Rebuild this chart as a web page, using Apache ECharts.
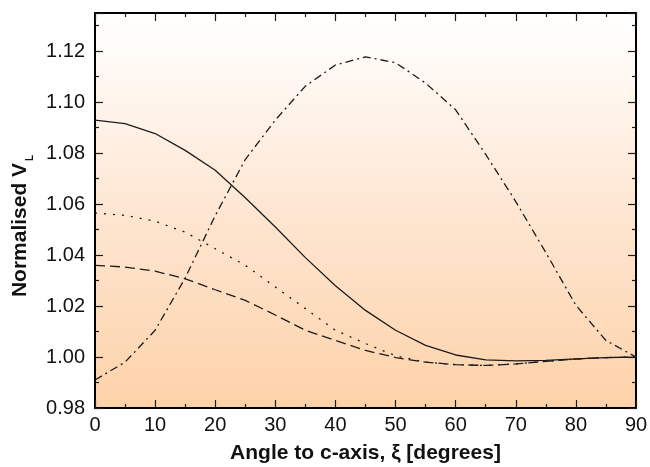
<!DOCTYPE html>
<html>
<head>
<meta charset="utf-8">
<script src="https://cdn.jsdelivr.net/npm/echarts@6/dist/echarts.min.js"></script>
<style>
  html, body { margin: 0; padding: 0; background: #ffffff; }
  #chart { width: 650px; height: 467px; }
</style>
</head>
<body>
<div id="chart"></div>
<script>
// Angle to the c-axis (degrees)
const angles = [0, 5, 10, 15, 20, 25, 30, 35, 40, 45, 50, 55, 60, 65, 70, 75, 80, 85, 90];

// Normalised V_L curves
const solidValues   = [1.093, 1.0916, 1.0877, 1.0811, 1.0733, 1.0625, 1.051, 1.039, 1.028, 1.0183, 1.0105, 1.0046, 1.0008, 0.9989, 0.9985, 0.9987, 0.9993, 0.9998, 1.0];
const dottedValues  = [1.0565, 1.0556, 1.0533, 1.049, 1.0425, 1.036, 1.0275, 1.019, 1.0105, 1.0053, 1.0005, 0.998, 0.997, 0.9967, 0.9973, 0.9983, 0.9992, 0.9998, 1.0];
const dashedValues  = [1.036, 1.0353, 1.0337, 1.0307, 1.0264, 1.0222, 1.0165, 1.0105, 1.0065, 1.0026, 0.9998, 0.998, 0.997, 0.9967, 0.9973, 0.9983, 0.9992, 0.9998, 1.0];
const dashDotValues = [0.991, 0.998, 1.0105, 1.031, 1.0555, 1.0775, 1.093, 1.1063, 1.1146, 1.1178, 1.1155, 1.1075, 1.097, 1.0795, 1.061, 1.041, 1.0203, 1.0065, 1.0];

const FONT = 'Liberation Sans, Arial, Helvetica, sans-serif';
const INK = '#1c1c1c';

const pairs = vals => angles.map((a, i) => [a, vals[i]]);

const tickStyle = { color: INK, width: 1.2 };
const frameLine = { show: true, onZero: false, lineStyle: { color: '#000', width: 2 } };

function xAxisDef(position, withLabels) {
  return {
    type: 'value', position, min: 0, max: 90, interval: 10,
    axisLine: frameLine,
    axisTick: { show: true, inside: true, length: 8, lineStyle: tickStyle },
    minorTick: { show: true, splitNumber: 2, length: 4, lineStyle: tickStyle },
    splitLine: { show: false }, minorSplitLine: { show: false },
    axisLabel: withLabels
      ? { show: true, fontSize: 20, color: '#111', margin: 7, fontFamily: FONT }
      : { show: false },
    name: withLabels ? 'Angle to c-axis, \u03BE [degrees]' : '',
    nameLocation: 'middle', nameGap: 35,
    nameTextStyle: { fontSize: 21, fontWeight: 'bold', color: '#111', fontFamily: FONT }
  };
}

function yAxisDef(position, withLabels) {
  return {
    type: 'value', position, min: 0.98, max: 1.135, interval: 0.02,
    axisLine: frameLine,
    axisTick: { show: true, inside: true, length: 8, lineStyle: tickStyle },
    minorTick: { show: true, splitNumber: 2, length: 4, lineStyle: tickStyle },
    splitLine: { show: false }, minorSplitLine: { show: false },
    axisLabel: withLabels
      ? {
          show: true, fontSize: 20, color: '#111', margin: 10, fontFamily: FONT,
          showMaxLabel: false,
          formatter: v => {
            const k = v / 0.02;
            return Math.abs(k - Math.round(k)) < 1e-6 ? v.toFixed(2) : '';
          }
        }
      : { show: false }
  };
}

function lineSeries(vals, dash, yIdx) {
  return {
    type: 'line', data: pairs(vals), xAxisIndex: 0, yAxisIndex: 0,
    showSymbol: false, symbol: 'none', smooth: false, silent: true,
    lineStyle: { color: INK, width: 1.3, type: dash },
    z: 3
  };
}

const chart = echarts.init(document.getElementById('chart'), null, { renderer: 'canvas' });
chart.setOption({
  animation: false,
  backgroundColor: '#ffffff',
  grid: {
    left: 95, top: 13, width: 541, height: 395,
    outerBoundsMode: 'none',
    show: true, borderWidth: 0,
    backgroundColor: {
      type: 'linear', x: 0, y: 0, x2: 0, y2: 1,
      colorStops: [
        { offset: 0, color: '#ffffff' },
        { offset: 0.06, color: '#fffdfb' },
        { offset: 0.5, color: '#fee6d2' },
        { offset: 1, color: '#fdd2a9' }
      ]
    }
  },
  xAxis: [xAxisDef('bottom', true), xAxisDef('top', false)],
  yAxis: [yAxisDef('left', true), yAxisDef('right', false)],
  series: [
    lineSeries(solidValues, 'solid'),
    lineSeries(dottedValues, [2, 7]),
    lineSeries(dashedValues, [10, 5]),
    lineSeries(dashDotValues, [8, 4, 2, 4])
  ],
  graphic: [
    {
      type: 'text', x: 20, y: 230, rotation: Math.PI / 2,
      style: {
        text: 'Normalised V', fill: '#111',
        font: 'bold 21px ' + FONT, align: 'center', verticalAlign: 'middle'
      }
    },
    {
      type: 'text', x: 30, y: 158, rotation: Math.PI / 2,
      style: {
        text: 'L', fill: '#111',
        font: 'bold 10px ' + FONT, align: 'center', verticalAlign: 'middle'
      }
    }
  ]
});
</script>
</body>
</html>
